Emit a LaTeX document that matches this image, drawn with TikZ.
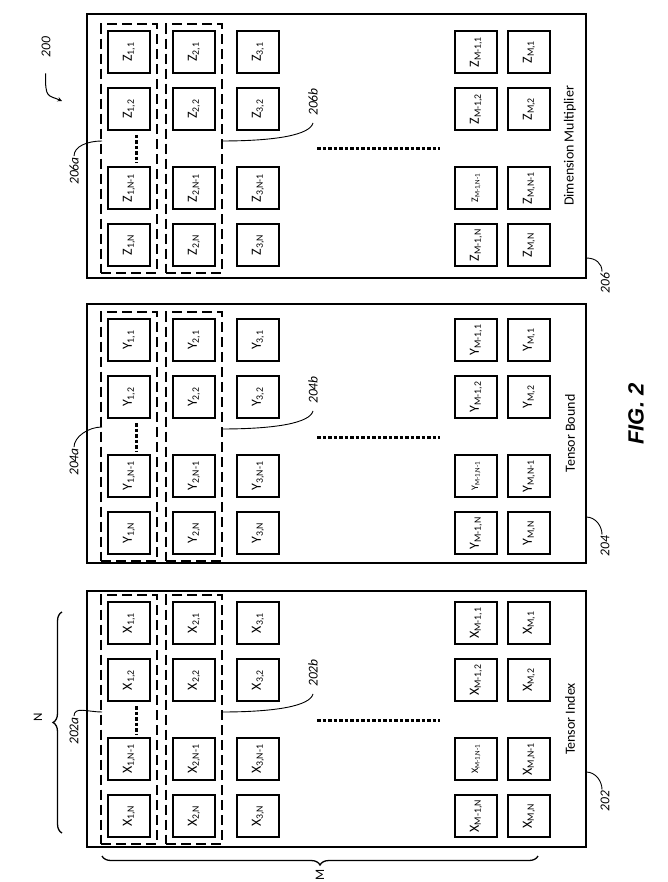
\documentclass[tikz,border=0pt]{standalone}
\usepackage{fontspec}
\setmainfont{Carlito}
\newfontfamily\figfont{Liberation Sans}
\usetikzlibrary{arrows,fit,decorations.pathreplacing}
\def\smallkey{m1n1}

\begin{document}
\begin{tikzpicture}[
    x=1pt, y=-1pt,
    panel/.style={rectangle, draw=black, line width=1.5pt, minimum width=499pt, inner sep=0pt},
    cell/.style={rectangle, draw=black, line width=1.8pt, minimum size=42pt, inner sep=0pt, rotate=90},
    group/.style={rectangle, draw=black, line width=1.6pt, dash pattern=on 10pt off 5pt, inner sep=6pt},
    dotline/.style={line width=3pt, dash pattern=on 3.5pt off 2pt},
    title/.style={rotate=90, font=\fontsize{14}{16}\selectfont},
    ref/.style={rotate=90, font=\fontsize{13.5}{15}\selectfont\itshape, inner sep=1pt},
    lbl/.style={rotate=90, font=\fontsize{13}{15}\selectfont, inner sep=0pt},
    leader/.style={line width=0.9pt},
    curly/.style={decorate, decoration={brace, amplitude=9pt}, line width=1.3pt},
    arrow/.style={->, >=stealth, line width=1pt}
]
\useasboundingbox (0,0) rectangle (667,882);

\foreach \sym/\pre/\pnum/\pc/\ph/\y/\ptitle/\ay/\ey/\ny/\sy in {
    Z/z/206/146/264/52/Dimension Multiplier/171/141/283/258,
    Y/y/204/433.5/259/340/Tensor Bound/462/427/546/517,
    X/x/202/719/256/623/Tensor Index/731/712/801/772}
{
    \node[panel, minimum height=\ph pt] (p\pnum) at (336.5,\pc) {};
    \node[title] (t\pnum) at (570,\pc) {\ptitle};

    \foreach \cx/\ri/\rn in {129/1/1, 194/2/2, 258/3/3, 476/M-1/m1, 529/M/m}
        \foreach \dy/\ci/\cn in {0/1/1, 57/2/2, 136/N-1/n1, 193/N/n}
        {
            \edef\key{\rn\cn}
            \ifx\key\smallkey \def\cellsize{10}\else\def\cellsize{14}\fi
            \node[cell, font=\fontsize{\cellsize}{\cellsize}\selectfont] (\pre\rn\cn) at (\cx,\y+\dy) {\sym\textsubscript{\ri,\ci}};
        }

    \node[group, fit=(\pre11)(\pre1n)] (g\pnum a) {};
    \node[group, fit=(\pre21)(\pre2n)] (g\pnum b) {};

    \draw[dotline] (136,\y+83) -- (136,\y+111);
    \draw[dotline] (317,\y+97) -- (440,\y+97);

    \node[ref] (l\pnum) at (605,\ny) {\pnum};
    \coordinate (e\pnum) at (586,\sy);
    \draw[leader] (e\pnum) .. controls +(10,0) and +(0,-8) .. ([xshift=-3pt]l\pnum.east);

    \node[ref] (l\pnum a) at (74,\ay) {\pnum a};
    \coordinate (e\pnum a) at (102,\ey);
    \draw[leader] (l\pnum a.east) .. controls +(0,-10) and +(-14,0) .. (e\pnum a);

    \node[ref] (l\pnum b) at (313,\y+50) {\pnum b};
    \coordinate (e\pnum b) at (221,\y+89);
    \draw[leader] (e\pnum b) .. controls +(55,0) and +(-3,12) .. ([yshift=-6pt]l\pnum b.west);
}

\node[ref] (l200) at (46,47) {200};
\coordinate (c200) at (62,101);
\draw[arrow, shorten <=15pt] (l200.west) .. controls +(-1,40) and +(-14,-6) .. (c200);

\coordinate (ntop) at (62,612);
\coordinate (nbot) at (62,833);
\draw[curly] (nbot) -- (ntop);
\node[lbl] (nlab) at (38,717) {N};

\coordinate (mleft) at (102,856);
\coordinate (mright) at (538,856);
\draw[curly] (mright) -- (mleft);
\node[lbl] (mlab) at (320,875) {M};

\node[rotate=90, font=\figfont\bfseries\itshape\fontsize{22}{24}\selectfont] (fig) at (636,414) {FIG. 2};

\end{tikzpicture}
\end{document}
